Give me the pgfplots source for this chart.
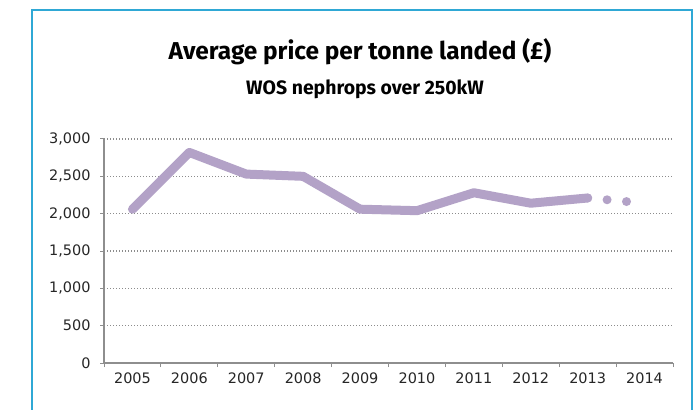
\documentclass[border=0pt]{standalone}
\usepackage{fontspec}
\setmainfont{DejaVu Sans}
\newfontfamily\titlefont{Fira Sans}
\usepackage{pgfplots}
\pgfplotsset{compat=1.18}

\definecolor{framecol}{HTML}{2FA8D5}
\definecolor{linecol}{HTML}{B3A2C7}
\definecolor{gridcol}{HTML}{8C8C8C}
\definecolor{axiscol}{HTML}{8E8E8E}
\definecolor{labelcol}{HTML}{262626}

\begin{document}
\begin{tikzpicture}[x=1bp,y=1bp]
  \useasboundingbox (0,0) rectangle (697,409);
  \fill[white] (0,0) rectangle (697,409);
  % open frame round the chart
  \draw[framecol, line width=2bp] (32,-5) -- (32,398.5) -- (691.5,398.5) -- (691.5,-5);
  % titles
  \node[anchor=base, inner sep=0pt, font=\titlefont\bfseries\fontsize{24.5}{30}\selectfont]
    at (360,350) {Average price per tonne landed (£)};
  \node[anchor=base, inner sep=0pt, font=\titlefont\bfseries\fontsize{19.5}{23}\selectfont]
    at (365,315) {WOS nephrops over 250kW};

  \begin{axis}[
    at={(104bp,46bp)}, anchor=south west,
    scale only axis, width=569bp, height=224bp,
    xmin=0, xmax=10, ymin=0, ymax=3000,
    axis x line*=bottom, axis y line*=left,
    axis line style={axiscol, line width=1.3bp, -},
    /pgf/number format/assume math mode=true,
    xtick={0.5,1.5,...,9.5},
    xticklabels={2005,2006,2007,2008,2009,2010,2011,2012,2013,2014},
    minor xtick={0,1,...,10},
    major x tick style={draw=none},
    ytick={0,500,...,3000},
    yticklabel style={xshift=-6bp, /pgf/number format/.cd, fixed, 1000 sep={,}},
    xticklabel style={yshift=-2bp},
    tick align=outside,
    major tick length=4bp, minor tick length=4bp,
    tick style={axiscol, line width=1bp},
    ticklabel style={font=\fontsize{14.5}{17}\selectfont, text=labelcol},
    ymajorgrids,
    grid style={gridcol, line width=1.2bp, dash pattern=on 1.2bp off 1.8bp},
    clip=false,
  ]
    % annual average price, 2005--2013
    \addplot[linecol, line width=9bp, line join=round, line cap=round] coordinates {
      (0.5,2060) (1.5,2820) (2.5,2530) (3.5,2500) (4.5,2060)
      (5.5,2040) (6.5,2280) (7.5,2140) (8.5,2210)
    };
    % 2014 shown as a dotted segment
    \addplot[linecol, line width=9bp, line cap=round, dash pattern=on 0bp off 19.5bp] coordinates {
      (8.5,2210) (9.5,2140)
    };
  \end{axis}
\end{tikzpicture}
\end{document}
